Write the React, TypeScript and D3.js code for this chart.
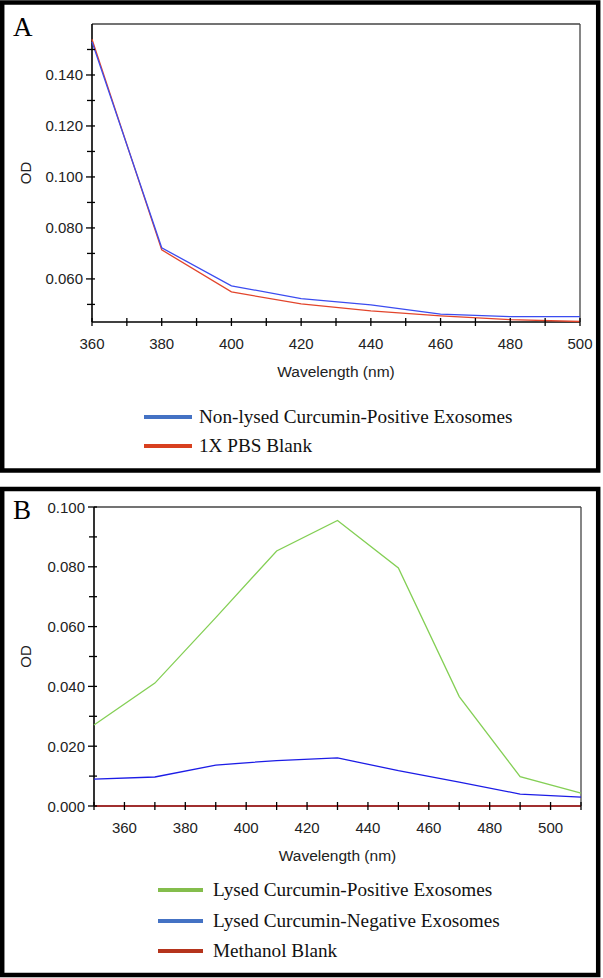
import React from "react";
import * as d3 from "d3";

// ---------- Panel A data ----------
const wavelengthsA = [360, 380, 400, 420, 440, 460, 480, 500];
const nonLysedPositive = [0.153, 0.0722, 0.0573, 0.0523, 0.0498, 0.0462, 0.0452, 0.0452];
const pbsBlank = [0.154, 0.0714, 0.0549, 0.0502, 0.0475, 0.0455, 0.044, 0.0433];
const xTicksA = [360, 380, 400, 420, 440, 460, 480, 500];
const yTicksA = [0.06, 0.08, 0.1, 0.12, 0.14];
const yMinorA = [0.05, 0.07, 0.09, 0.11, 0.13, 0.15];
const legendA = ["Non-lysed Curcumin-Positive Exosomes", "1X PBS Blank"];

// ---------- Panel B data ----------
const wavelengthsB = [350, 370, 390, 410, 430, 450, 470, 490, 510];
const lysedPositive = [0.0271, 0.0411, 0.063, 0.0853, 0.0955, 0.0796, 0.0366, 0.0098, 0.0043];
const lysedNegative = [0.009, 0.0097, 0.0137, 0.0152, 0.0161, 0.0118, 0.008, 0.004, 0.003];
const methanolBlank = [0, 0, 0, 0, 0, 0, 0, 0, 0];
const xTicksB = [360, 380, 400, 420, 440, 460, 480, 500];
const yTicksB = [0, 0.02, 0.04, 0.06, 0.08, 0.1];
const yMinorB = [0.01, 0.03, 0.05, 0.07, 0.09];
const legendB = [
  "Lysed Curcumin-Positive Exosomes",
  "Lysed Curcumin-Negative Exosomes",
  "Methanol Blank",
];

const SANS = "'Liberation Sans', Arial, sans-serif";
const SERIF = "'Liberation Serif', 'Times New Roman', serif";

type Series = { values: number[]; color: string };

function Panel(props: {
  top: number;
  bottom: number;
  letter: string;
  x0: number; x1: number; yTop: number; yBot: number;
  xDomain: [number, number];
  yDomain: [number, number];
  xs: number[];
  series: Series[];
  xTicks: number[];
  xMinorStep: number;
  yTicks: number[];
  yMinor: number[];
  legend: string[];
  legendColors: string[];
  legendLineX: [number, number];
  legendTextX: number;
  legendY: number[];
}) {
  const p = props;
  const x = d3.scaleLinear().domain(p.xDomain).range([p.x0, p.x1]);
  const y = d3.scaleLinear().domain(p.yDomain).range([p.yBot, p.yTop]);
  const minorX = d3.range(p.xDomain[0], p.xDomain[1] + 0.001, p.xMinorStep);
  const line = d3
    .line<number>()
    .x((_, i) => x(p.xs[i]))
    .y((d) => y(d));
  const fmt = d3.format(".3f");
  const cx = (p.x0 + p.x1) / 2;
  const cy = (p.yTop + p.yBot) / 2;
  return (
    <g>
      <rect
        x={2.2}
        y={p.top}
        width={596}
        height={p.bottom - p.top}
        fill="white"
        stroke="black"
        strokeWidth={4.5}
      />
      <text x={13} y={p.yTop + 12} fontFamily={SERIF} fontSize={27}>
        {p.letter}
      </text>
      {/* frame */}
      <line x1={p.x0} x2={p.x1} y1={p.yTop} y2={p.yTop} stroke="#444" strokeWidth={1.3} />
      <line x1={p.x1} x2={p.x1} y1={p.yTop} y2={p.yBot} stroke="#444" strokeWidth={1.3} />
      {/* axes */}
      <line x1={p.x0} x2={p.x0} y1={p.yTop} y2={p.yBot} stroke="black" strokeWidth={1.6} />
      <line x1={p.x0} x2={p.x1} y1={p.yBot} y2={p.yBot} stroke="black" strokeWidth={1.6} />
      {/* series */}
      {p.series.map((s, i) => (
        <path key={i} d={line(s.values) || ""} fill="none" stroke={s.color} strokeWidth={1.3} />
      ))}
      {minorX.map((t) => (
        <line key={"mx" + t} x1={x(t)} x2={x(t)} y1={p.yBot - 4} y2={p.yBot + 4} stroke="black" strokeWidth={1.3} />
      ))}
      {p.xTicks.map((t) => (
        <text key={"xl" + t} x={x(t)} y={p.yBot + 27} textAnchor="middle" fontFamily={SANS} fontSize={15} fill="#222">
          {t}
        </text>
      ))}
      {p.yMinor.map((t) => (
        <line key={"my" + t} x1={p.x0 - 5} x2={p.x0 + 3} y1={y(t)} y2={y(t)} stroke="black" strokeWidth={1.3} />
      ))}
      {p.yTicks.map((t) => (
        <g key={"yt" + t}>
          <line x1={p.x0 - 6} x2={p.x0 + 3} y1={y(t)} y2={y(t)} stroke="black" strokeWidth={1.3} />
          <text x={p.x0 - 9} y={y(t) + 5.5} textAnchor="end" fontFamily={SANS} fontSize={15} fill="#222">
            {fmt(t)}
          </text>
        </g>
      ))}
      <text
        transform={`translate(${31},${cy}) rotate(-90)`}
        textAnchor="middle"
        fontFamily={SANS}
        fontSize={15}
        fill="#222"
      >
        OD
      </text>
      <text x={cx} y={p.yBot + 55} textAnchor="middle" fontFamily={SANS} fontSize={15.5} fill="#222">
        Wavelength (nm)
      </text>
      {p.legend.map((name, i) => (
        <g key={name}>
          <line
            x1={p.legendLineX[0]}
            x2={p.legendLineX[1]}
            y1={p.legendY[i]}
            y2={p.legendY[i]}
            stroke={p.legendColors[i]}
            strokeWidth={4}
          />
          <text x={p.legendTextX} y={p.legendY[i] + 5.5} fontFamily={SERIF} fontSize={19.2} fill="#111">
            {name}
          </text>
        </g>
      ))}
    </g>
  );
}

export default function App() {
  return (
    <svg
      width={603}
      height={978}
      style={{ position: "absolute", left: 0, top: 0, background: "white" }}
    >
      <rect x={0} y={0} width={603} height={978} fill="white" />
      <Panel
        top={2.5}
        bottom={470.5}
        letter="A"
        x0={92}
        x1={580}
        yTop={24}
        yBot={322}
        xDomain={[360, 500]}
        yDomain={[0.0431, 0.16]}
        xs={wavelengthsA}
        series={[
          { values: pbsBlank, color: "#e2452c" },
          { values: nonLysedPositive, color: "#3b4cf0" },
        ]}
        xTicks={xTicksA}
        xMinorStep={10}
        yTicks={yTicksA}
        yMinor={yMinorA}
        legend={legendA}
        legendColors={["#4472c4", "#d8401f"]}
        legendLineX={[144, 192]}
        legendTextX={199}
        legendY={[417, 446]}
      />
      <Panel
        top={489}
        bottom={975}
        letter="B"
        x0={94}
        x1={581}
        yTop={507}
        yBot={806}
        xDomain={[350, 510]}
        yDomain={[0, 0.1]}
        xs={wavelengthsB}
        series={[
          { values: lysedPositive, color: "#84cf55" },
          { values: lysedNegative, color: "#1c1ce6" },
          { values: methanolBlank, color: "#c02a2a" },
        ]}
        xTicks={xTicksB}
        xMinorStep={10}
        yTicks={yTicksB}
        yMinor={yMinorB}
        legend={legendB}
        legendColors={["#84bd4c", "#4472c4", "#b5341c"]}
        legendLineX={[158, 203]}
        legendTextX={213}
        legendY={[890, 921, 951]}
      />
    </svg>
  );
}
